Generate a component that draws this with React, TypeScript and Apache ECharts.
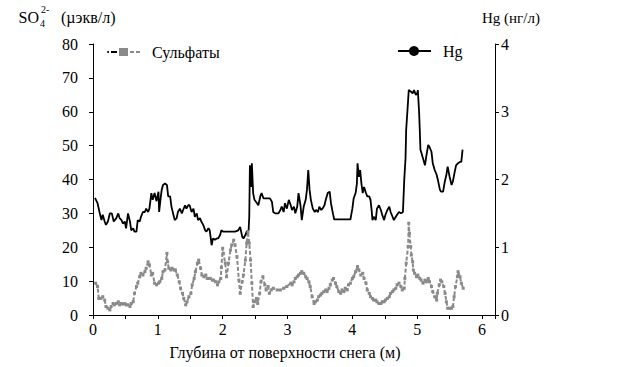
import React, { useEffect, useRef } from "react";
import * as echarts from "echarts";

const FONT = "Liberation Serif";

// Hg (ng/l) vs depth (m)
const hgDepth = [
  0.03, 0.07, 0.10, 0.13, 0.15, 0.18, 0.20, 0.23, 0.26, 0.29, 0.32, 0.36, 0.39, 0.41, 0.44, 0.46, 0.49, 0.51, 0.54, 0.57,
  0.59, 0.62, 0.64, 0.67, 0.69, 0.72, 0.74, 0.77, 0.80, 0.82, 0.85, 0.87, 0.90, 0.92, 0.95, 0.98, 1.01, 1.02, 1.04, 1.06,
  1.08, 1.11, 1.14, 1.16, 1.19, 1.21, 1.24, 1.26, 1.29, 1.31, 1.34, 1.37, 1.39, 1.42, 1.44, 1.47, 1.49, 1.52, 1.55, 1.57,
  1.60, 1.62, 1.65, 1.67, 1.70, 1.73, 1.75, 1.78, 1.80, 1.83, 1.85, 1.88, 1.91, 1.93, 1.96, 1.98, 2.01, 2.04, 2.09, 2.14,
  2.19, 2.24, 2.27, 2.30, 2.32, 2.35, 2.37, 2.40, 2.41, 2.42, 2.44, 2.45, 2.47, 2.49, 2.53, 2.55, 2.58, 2.60, 2.63, 2.68,
  2.73, 2.76, 2.78, 2.81, 2.86, 2.89, 2.91, 2.94, 2.96, 2.99, 3.02, 3.05, 3.07, 3.10, 3.12, 3.15, 3.17, 3.20, 3.22, 3.25,
  3.28, 3.30, 3.32, 3.34, 3.36, 3.39, 3.42, 3.44, 3.47, 3.49, 3.52, 3.54, 3.57, 3.59, 3.62, 3.65, 3.67, 3.70, 3.72, 3.76,
  3.82, 3.87, 3.92, 3.97, 4.00, 4.02, 4.05, 4.07, 4.08, 4.10, 4.12, 4.14, 4.16, 4.18, 4.21, 4.23, 4.26, 4.28, 4.30, 4.31,
  4.33, 4.36, 4.38, 4.41, 4.44, 4.46, 4.49, 4.51, 4.54, 4.57, 4.59, 4.62, 4.64, 4.67, 4.69, 4.72, 4.75, 4.78, 4.80, 4.82,
  4.83, 4.86, 4.87, 4.90, 4.93, 4.95, 4.98, 5.00, 5.01, 5.03, 5.04, 5.05, 5.06, 5.09, 5.12, 5.14, 5.17, 5.19, 5.22, 5.24,
  5.27, 5.30, 5.32, 5.35, 5.37, 5.40, 5.42, 5.45, 5.47, 5.50, 5.53, 5.55, 5.58, 5.60, 5.63, 5.66, 5.68, 5.70,
];
const hgValues = [
  1.73, 1.65, 1.52, 1.40, 1.48, 1.38, 1.33, 1.38, 1.50, 1.50, 1.38, 1.43, 1.50, 1.43, 1.40, 1.35, 1.38, 1.28, 1.50, 1.38,
  1.25, 1.28, 1.23, 1.23, 1.40, 1.38, 1.45, 1.52, 1.52, 1.57, 1.52, 1.57, 1.80, 1.70, 1.80, 1.68, 1.82, 1.52, 1.70, 1.85,
  1.92, 1.94, 1.92, 1.75, 1.75, 1.60, 1.48, 1.40, 1.43, 1.52, 1.57, 1.50, 1.55, 1.62, 1.57, 1.62, 1.62, 1.52, 1.57, 1.45,
  1.50, 1.40, 1.43, 1.38, 1.33, 1.25, 1.23, 1.28, 1.25, 1.03, 1.13, 1.11, 1.13, 1.13, 1.18, 1.25, 1.23, 1.23, 1.23, 1.23,
  1.23, 1.25, 1.30, 1.16, 1.13, 1.18, 1.23, 1.25, 1.45, 2.21, 1.89, 2.24, 1.80, 1.70, 1.65, 1.62, 1.75, 1.80, 1.72, 1.72,
  1.72, 1.67, 1.52, 1.50, 1.50, 1.55, 1.60, 1.52, 1.65, 1.57, 1.70, 1.62, 1.55, 1.60, 1.50, 1.60, 1.80, 1.62, 1.40, 1.60,
  1.70, 1.85, 2.14, 1.85, 1.70, 1.57, 1.52, 1.55, 1.52, 1.60, 1.55, 1.57, 1.62, 1.70, 1.80, 1.82, 1.65, 1.50, 1.41, 1.41,
  1.41, 1.41, 1.41, 1.41, 1.57, 1.72, 1.80, 1.94, 2.24, 2.04, 2.14, 1.94, 1.80, 1.89, 1.80, 1.75, 1.75, 1.70, 1.52, 1.40,
  1.45, 1.40, 1.57, 1.62, 1.55, 1.48, 1.40, 1.48, 1.55, 1.60, 1.52, 1.45, 1.40, 1.45, 1.48, 1.52, 1.50, 1.52, 1.99, 2.31,
  2.73, 3.17, 3.32, 3.30, 3.27, 3.32, 3.25, 3.27, 3.32, 2.98, 2.73, 2.44, 2.41, 2.31, 2.21, 2.34, 2.51, 2.48, 2.41, 2.24,
  2.14, 2.07, 1.99, 1.85, 1.82, 1.82, 1.94, 2.07, 2.19, 2.04, 1.92, 1.97, 2.12, 2.21, 2.24, 2.26, 2.26, 2.44,
];

// Sulfates (µeq/l) vs depth (m)
const sulfDepth = [
  0.04, 0.07, 0.09, 0.12, 0.15, 0.18, 0.20, 0.23, 0.26, 0.28, 0.31, 0.33, 0.36, 0.39, 0.41, 0.44, 0.46, 0.49, 0.51, 0.54,
  0.57, 0.59, 0.62, 0.64, 0.67, 0.69, 0.72, 0.74, 0.77, 0.80, 0.82, 0.85, 0.87, 0.90, 0.92, 0.95, 0.98, 1.01, 1.03, 1.06,
  1.08, 1.11, 1.14, 1.15, 1.17, 1.20, 1.22, 1.25, 1.27, 1.30, 1.33, 1.35, 1.38, 1.40, 1.43, 1.45, 1.48, 1.51, 1.53, 1.56,
  1.58, 1.61, 1.63, 1.66, 1.68, 1.71, 1.74, 1.76, 1.79, 1.81, 1.84, 1.86, 1.89, 1.92, 1.94, 1.97, 1.98, 2.00, 2.01, 2.04,
  2.06, 2.09, 2.12, 2.14, 2.17, 2.19, 2.22, 2.25, 2.27, 2.30, 2.32, 2.35, 2.37, 2.39, 2.41, 2.43, 2.45, 2.47, 2.49, 2.52,
  2.54, 2.57, 2.59, 2.62, 2.65, 2.67, 2.70, 2.72, 2.75, 2.78, 2.84, 2.89, 2.94, 2.99, 3.05, 3.07, 3.10, 3.12, 3.15, 3.17,
  3.20, 3.22, 3.25, 3.28, 3.30, 3.33, 3.35, 3.38, 3.41, 3.43, 3.46, 3.48, 3.51, 3.53, 3.56, 3.59, 3.61, 3.64, 3.66, 3.69,
  3.71, 3.74, 3.76, 3.79, 3.82, 3.84, 3.87, 3.89, 3.92, 3.94, 3.97, 4.00, 4.02, 4.05, 4.08, 4.10, 4.13, 4.16, 4.18, 4.21,
  4.23, 4.26, 4.28, 4.31, 4.33, 4.36, 4.38, 4.41, 4.44, 4.46, 4.49, 4.51, 4.54, 4.57, 4.59, 4.62, 4.64, 4.67, 4.69, 4.72,
  4.75, 4.77, 4.80, 4.81, 4.83, 4.86, 4.87, 4.88, 4.90, 4.91, 4.93, 4.94, 4.96, 4.99, 5.01, 5.04, 5.06, 5.09, 5.12, 5.14,
  5.17, 5.19, 5.22, 5.24, 5.27, 5.30, 5.31, 5.34, 5.36, 5.38, 5.41, 5.43, 5.45, 5.47, 5.50, 5.53, 5.55, 5.57, 5.59, 5.62,
  5.63, 5.66, 5.68, 5.71,
];
const sulfValues = [
  9.4, 8.4, 4.9, 4.9, 5.4, 4.4, 2.5, 2.0, 1.5, 2.5, 3.4, 3.0, 3.4, 3.9, 3.0, 3.4, 3.2, 3.4, 3.0, 3.0,
  2.5, 3.4, 3.9, 6.4, 8.4, 9.4, 11.3, 12.3, 11.8, 12.8, 13.8, 15.7, 14.8, 11.8, 12.3, 9.4, 8.9, 9.4, 9.8, 10.8,
  12.8, 13.3, 18.2, 15.7, 13.8, 13.3, 13.8, 13.3, 13.3, 11.8, 9.8, 7.9, 6.4, 4.9, 3.0, 3.9, 5.4, 6.4, 8.9, 10.8,
  12.8, 15.3, 16.2, 13.8, 11.8, 11.3, 11.8, 10.8, 10.8, 10.8, 10.3, 10.3, 9.8, 8.9, 9.8, 10.8, 14.0, 19.7, 18.2, 15.3,
  11.3, 15.3, 19.2, 20.7, 22.1, 20.7, 17.2, 10.3, 6.4, 9.8, 11.8, 16.2, 21.2, 24.6, 21.2, 16.2, 9.4, 2.5, 3.9, 4.9,
  3.4, 6.4, 9.8, 11.3, 8.9, 7.4, 8.4, 6.4, 7.4, 7.9, 7.4, 7.4, 7.9, 8.4, 9.4, 8.9, 9.8, 10.8, 11.3, 11.8,
  12.3, 12.8, 12.3, 11.3, 10.8, 9.8, 8.4, 5.4, 3.4, 3.9, 4.4, 5.4, 5.9, 6.4, 6.9, 7.4, 6.9, 7.9, 8.9, 10.3,
  10.8, 9.4, 8.4, 6.9, 6.4, 7.4, 6.9, 7.9, 7.4, 8.9, 9.4, 10.8, 11.3, 12.8, 14.3, 13.3, 11.8, 12.3, 10.8, 9.4,
  7.4, 6.4, 5.4, 4.9, 4.4, 4.4, 3.9, 3.4, 3.4, 3.9, 3.9, 4.4, 4.9, 5.4, 6.4, 6.9, 7.4, 7.9, 8.9, 9.4,
  8.4, 7.4, 7.9, 10.8, 15.3, 20.2, 27.1, 24.1, 20.2, 17.7, 15.7, 13.3, 12.3, 11.3, 11.8, 10.8, 10.3, 9.4, 10.3, 9.8,
  10.8, 9.8, 8.4, 6.9, 5.4, 4.4, 6.4, 8.9, 10.3, 9.8, 8.4, 6.4, 3.9, 2.0, 2.0, 2.0, 2.5, 5.4, 8.4, 11.3,
  12.8, 11.3, 9.4, 7.9,
];

const xTicks = [0, 1, 2, 3, 4, 5, 6];
const leftTicks = [0, 10, 20, 30, 40, 50, 60, 70, 80];
const rightTicks = [0, 1, 2, 3, 4];

const GRAY = "#8a8a8a";

export default function App() {
  const ref = useRef<HTMLDivElement>(null);
  useEffect(() => {
    if (!ref.current) return;
    const chart = echarts.init(ref.current, undefined, { renderer: "svg" });
    const hgData = hgDepth.map((d, i) => [d, hgValues[i]]);
    const sulfData = sulfDepth.map((d, i) => [d, sulfValues[i]]);
    const txt = (x: number, y: number, text: string, size = 16, align = "left") => ({
      type: "text",
      x,
      y,
      silent: true,
      style: {
        text,
        fill: "#000",
        font: `${size}px 'Liberation Serif'`,
        textAlign: align,
        textVerticalAlign: "middle",
      },
    });
    chart.setOption({
      animation: false,
      grid: { left: 93, right: 143, top: 44, bottom: 52 },
      xAxis: {
        type: "value",
        min: xTicks[0],
        max: 6.2,
        interval: 1,
        axisLine: { show: true, onZero: false, lineStyle: { color: "#000", width: 1 } },
        axisTick: { show: true, length: 4, lineStyle: { color: "#000" } },
        minorTick: { show: true, splitNumber: 2, length: 4, lineStyle: { color: "#000" } },
        splitLine: { show: false },
        axisLabel: {
          fontFamily: FONT,
          fontSize: 16,
          color: "#000",
          margin: 6,
          formatter: (v: number) => (xTicks.includes(v) ? String(v) : ""),
        },
      },
      yAxis: [
        {
          type: "value",
          min: leftTicks[0],
          max: leftTicks[leftTicks.length - 1],
          interval: 10,
          position: "left",
          axisLine: { show: true, lineStyle: { color: "#000", width: 1 } },
          axisTick: { show: true, length: 4, lineStyle: { color: "#000" } },
          splitLine: { show: false },
          axisLabel: { fontFamily: FONT, fontSize: 16, color: "#000", margin: 15 },
        },
        {
          type: "value",
          min: rightTicks[0],
          max: rightTicks[rightTicks.length - 1],
          interval: 1,
          position: "right",
          axisLine: { show: true, lineStyle: { color: "#000", width: 1 } },
          axisTick: { show: true, length: 4, lineStyle: { color: "#000" } },
          splitLine: { show: false },
          axisLabel: { fontFamily: FONT, fontSize: 16, color: "#000", margin: 6 },
        },
      ],
      series: [
        {
          name: "Сульфаты",
          type: "line",
          yAxisIndex: 0,
          data: sulfData,
          symbol: "rect",
          symbolSize: 3,
          showSymbol: true,
          itemStyle: { color: GRAY },
          lineStyle: { color: GRAY, width: 2, type: [4, 2] },
        },
        {
          name: "Hg",
          type: "line",
          yAxisIndex: 1,
          data: hgData,
          symbol: "none",
          lineStyle: { color: "#000", width: 1.8 },
        },
      ],
      graphic: [
        txt(39, 17, "SO", 16, "right"),
        txt(40, 23, "4", 10),
        txt(41, 9, "2-", 10),
        txt(61, 17, "(µэкв/л)", 16),
        txt(482, 18, "Hg (нг/л)", 15),
        { type: "circle", silent: true, shape: { cx: 108, cy: 52, r: 1 }, style: { fill: "#000" } },
        { type: "line", silent: true, shape: { x1: 111, y1: 52, x2: 117, y2: 52 }, style: { stroke: "#000", lineWidth: 2 } },
        { type: "rect", silent: true, shape: { x: 119, y: 48, width: 9, height: 8 }, style: { fill: GRAY } },
        { type: "line", silent: true, shape: { x1: 130, y1: 52, x2: 134, y2: 52 }, style: { stroke: GRAY, lineWidth: 2 } },
        { type: "line", silent: true, shape: { x1: 136, y1: 52, x2: 140, y2: 52 }, style: { stroke: GRAY, lineWidth: 2 } },
        txt(152, 52, "Сульфаты", 16),
        { type: "line", silent: true, shape: { x1: 398, y1: 51, x2: 431, y2: 51 }, style: { stroke: "#000", lineWidth: 2 } },
        { type: "circle", silent: true, shape: { cx: 414, cy: 51, r: 5 }, style: { fill: "#000" } },
        txt(443, 51, "Hg", 16),
        txt(285, 352, "Глубина от поверхности снега (м)", 16, "center"),
      ],
    });
    return () => chart.dispose();
  }, []);
  return (
    <div
      ref={ref}
      style={{ position: "absolute", left: 0, top: 0, width: 638, height: 367, background: "#fff" }}
    />
  );
}
